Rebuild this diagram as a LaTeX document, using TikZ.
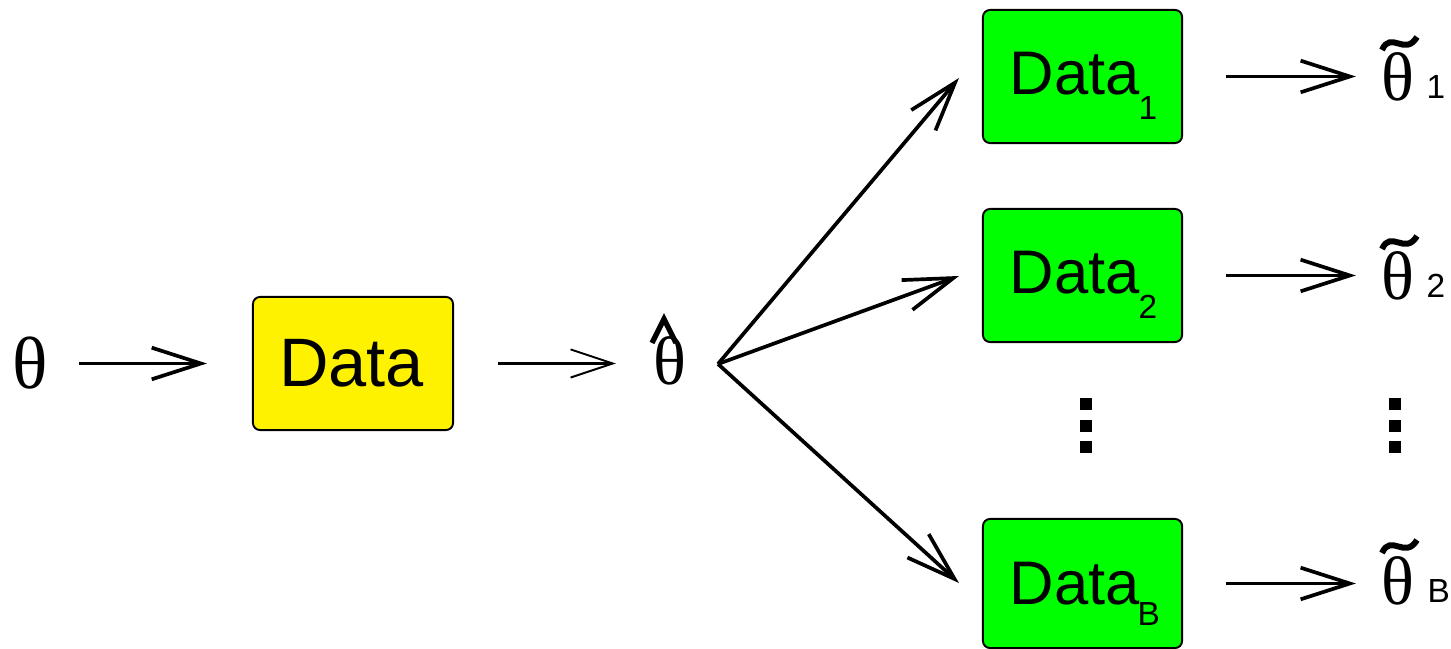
\documentclass[tikz,border=0pt]{standalone}
\usepackage{fontspec}
\setmainfont{Liberation Serif}
\newfontfamily\sansf{Liberation Sans}
\usetikzlibrary{arrows.meta}
\begin{document}
\begin{tikzpicture}[x=0.01cm,y=-0.01cm,
  arr/.style={line width=1.05pt,-{Straight Barb[length=14pt,width=9pt,line width=1.05pt]}},
  thinarr/.style={line width=1.05pt,-{Straight Barb[length=12pt,width=8pt,line width=0.55pt]}},
  box/.style={draw,line width=0.55pt,rounded corners=2pt,minimum width=1.99cm,minimum height=1.33cm,inner sep=0pt},
  lbl/.style={inner sep=0pt,anchor=base},
  bigth/.style={lbl,font=\fontsize{21}{25}\selectfont},
  th/.style={lbl,font=\fontsize{19.5}{23}\selectfont},
  datat/.style={lbl,anchor=base west,font=\sansf\fontsize{17.5}{21}\selectfont},
  subt/.style={lbl,anchor=base west,font=\sansf\fontsize{9.5}{11}\selectfont},
  accent/.style={line width=1.5pt},
  dot/.style={fill=black}
]
\useasboundingbox (0,0) rectangle (1451,649);

% left part
\node[bigth] (theta) at (30,389) {θ};
\node[box,fill=yellow,minimum width=2cm] (d0) at (353,363.5) {};
\node[lbl,font=\sansf\fontsize{19.5}{23}\selectfont] (d0t) at (351.5,387) {Data};
\node[th] (thh) at (670,385) {θ};
\draw[accent,line join=miter] ([shift={(-18,-42)}]thh.base) -- ([shift={(-6,-66)}]thh.base) -- ([shift={(6,-42)}]thh.base);

\draw[arr,shorten <=0.31cm] (theta.east|-d0.west) -- ([xshift=-0.45cm]d0.west);
\draw[thinarr,shorten <=0.44cm] (d0.east) -- ([xshift=-0.37cm]thh.west|-d0.east);

% fan
\coordinate (fan) at (718,364);
\node[box,fill=green] (g1) at (1082.5,76.5) {};
\node[box,fill=green] (g2) at (1082.5,275.5) {};
\node[box,fill=green,minimum height=1.29cm] (gB) at (1082.5,583.5) {};

\draw[arr] (fan) -- ([shift={(-23,1.5)}]g1.west);
\draw[arr] (fan) -- ([shift={(-23,0.5)}]g2.west);
\draw[arr] (fan) -- ([shift={(-23,-0.5)}]gB.west);

\node[datat] (g1t) at (1009,95) {Data};
\node[subt] (g1s) at (1138,120) {1};
\node[datat] (g2t) at (1009,294) {Data};
\node[subt] (g2s) at (1138,319) {2};
\node[datat] (gBt) at (1009,604) {Data};
\node[subt] (gBs) at (1137,626) {B};

% theta tildes
\node[th] (tt1) at (1398,101) {θ};
\node[subt] (tt1s) at (1426,99) {1};
\node[th] (tt2) at (1398,300) {θ};
\node[subt] (tt2s) at (1426,298) {2};
\node[th] (ttB) at (1398,604) {θ};
\node[subt] (ttBs) at (1427,603) {B};

\foreach \t in {tt1,tt2,ttB}{
  \draw[accent,line width=1.7pt] ([shift={(-16,-51)}]\t.base) .. controls ([shift={(-7,-71)}]\t.base) and ([shift={(7,-44)}]\t.base) .. ([shift={(19,-64)}]\t.base);
}

\draw[arr] ([xshift=0.43cm]g1.east) -- ([xshift=-0.25cm]tt1.west|-g1.east);
\draw[arr] ([xshift=0.43cm]g2.east) -- ([xshift=-0.25cm]tt2.west|-g2.east);
\draw[arr] ([xshift=0.43cm]gB.east) -- ([xshift=-0.25cm]ttB.west|-gB.east);

% vertical dots
\foreach \x in {1080,1389}{
  \foreach \y in {398,420,441}{
    \fill[dot] (\x,\y) rectangle ++(12,12);
  }
}
\end{tikzpicture}
\end{document}
